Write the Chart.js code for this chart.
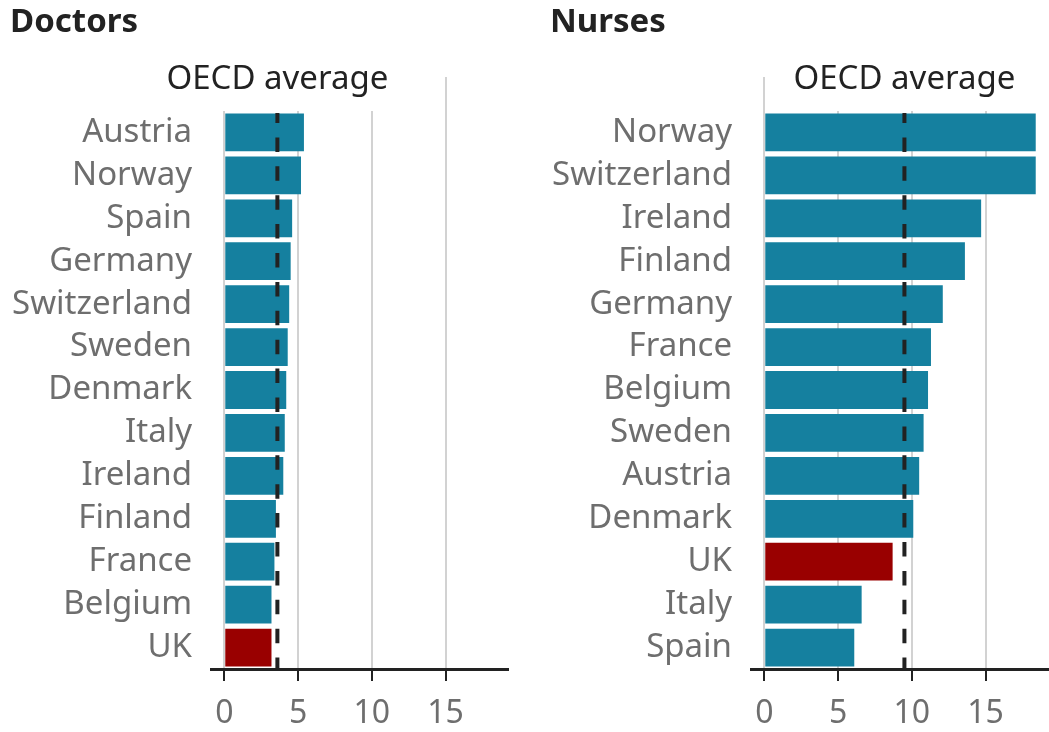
<!DOCTYPE html>
<html>
<head>
<meta charset="utf-8">
<script src="https://cdn.jsdelivr.net/npm/chart.js@4"></script>
<style>
  html, body { margin: 0; padding: 0; background: #fff; overflow: hidden; }
  .panel { position: absolute; top: 0; width: 509px; height: 732px; }
  #left { left: 0; }
  #right { left: 540px; }
</style>
</head>
<body>
<div class="panel" id="left"><canvas id="doctorsChart"></canvas></div>
<div class="panel" id="right"><canvas id="nursesChart"></canvas></div>
<script>
// practising doctors / nurses per 1,000 people
const doctorCountries = ['Austria', 'Norway', 'Spain', 'Germany', 'Switzerland', 'Sweden', 'Denmark', 'Italy', 'Ireland', 'Finland', 'France', 'Belgium', 'UK'];
const doctorValues = [5.4, 5.2, 4.6, 4.5, 4.4, 4.3, 4.2, 4.1, 4.0, 3.5, 3.4, 3.2, 3.2];
const doctorsOecd = 3.6;

const nurseCountries = ['Norway', 'Switzerland', 'Ireland', 'Finland', 'Germany', 'France', 'Belgium', 'Sweden', 'Austria', 'Denmark', 'UK', 'Italy', 'Spain'];
const nurseValues = [18.4, 18.4, 14.7, 13.6, 12.1, 11.3, 11.1, 10.8, 10.5, 10.1, 8.7, 6.6, 6.1];
const nursesOecd = 9.5;

const xTicks = [0, 5, 10, 15];

const teal = '#15809f';
const red = '#990000';
const font = 'Noto Sans';

function makeChart(id, title, labels, values, avg) {
  const ctx = document.getElementById(id).getContext('2d');
  return new Chart(ctx, {
    type: 'bar',
    data: {
      labels: labels,
      datasets: [{
        data: values,
        backgroundColor: labels.map(c => c === 'UK' ? red : teal),
        barPercentage: 0.88,
        categoryPercentage: 1
      }]
    },
    options: {
      indexAxis: 'y',
      responsive: true,
      maintainAspectRatio: false,
      animation: false,
      layout: { padding: { top: 111, left: 0, right: 0, bottom: 0 } },
      plugins: {
        legend: { display: false },
        tooltip: { enabled: false }
      },
      scales: {
        x: {
          min: -0.9,
          max: 19.3,
          afterBuildTicks: s => { s.ticks = xTicks.map(v => ({ value: v })); },
          afterFit: s => { s.height = 63; },
          grid: { color: '#d2d2d2', lineWidth: 2, tickColor: '#222', tickLength: 12, tickWidth: 2 },
          border: { display: true, color: '#222', width: 3 },
          ticks: { color: '#6e6e6e', font: { family: font, size: 32 }, padding: 14, maxRotation: 0 }
        },
        y: {
          afterFit: s => { s.width = 211; },
          grid: { display: false, drawTicks: false },
          border: { display: false },
          ticks: { color: '#6e6e6e', font: { family: font, size: 33 }, padding: 19, autoSkip: false }
        }
      }
    },
    plugins: [{
      id: 'extras',
      beforeDatasetsDraw(chart) {
        const c = chart.ctx, area = chart.chartArea, xs = chart.scales.x;
        c.save();
        // grid lines run a little above the bars
        c.strokeStyle = '#d2d2d2';
        c.lineWidth = 2;
        xTicks.forEach(v => {
          const px = Math.round(xs.getPixelForValue(v));
          c.beginPath();
          c.moveTo(px, 77);
          c.lineTo(px, area.top);
          c.stroke();
        });
        // OECD label with white backing
        const ax = xs.getPixelForValue(avg);
        c.font = '33px "' + font + '"';
        const w = c.measureText('OECD average').width;
        c.fillStyle = '#fff';
        c.fillRect(ax - w / 2 - 6, 40, w + 12, area.top - 40);
        c.fillStyle = '#222';
        c.textAlign = 'center';
        c.textBaseline = 'alphabetic';
        c.fillText('OECD average', ax, 89);
        c.restore();
      },
      afterDatasetsDraw(chart) {
        const c = chart.ctx, area = chart.chartArea, xs = chart.scales.x;
        const ax = xs.getPixelForValue(avg);
        c.save();
        c.strokeStyle = '#222';
        c.lineWidth = 4;
        c.setLineDash([14.5, 14.4]);
        c.lineDashOffset = 4.5;
        c.beginPath();
        c.moveTo(ax, area.top + 2);
        c.lineTo(ax, area.bottom);
        c.stroke();
        c.restore();
      },
      afterDraw(chart) {
        const c = chart.ctx;
        c.save();
        c.font = 'bold 33px "' + font + '"';
        c.fillStyle = '#222';
        c.textAlign = 'left';
        c.textBaseline = 'alphabetic';
        c.fillText(title, 10, 32);
        c.restore();
      }
    }]
  });
}

makeChart('doctorsChart', 'Doctors', doctorCountries, doctorValues, doctorsOecd);
makeChart('nursesChart', 'Nurses', nurseCountries, nurseValues, nursesOecd);
</script>
</body>
</html>
